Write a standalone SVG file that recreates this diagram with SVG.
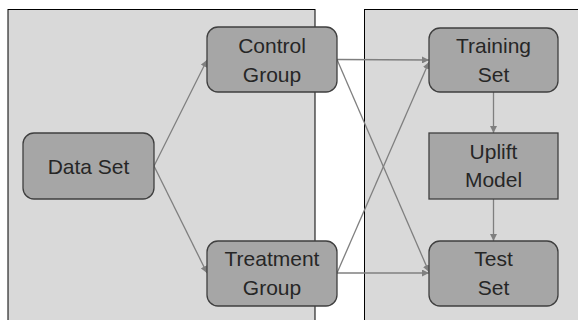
<svg xmlns="http://www.w3.org/2000/svg" width="578" height="320" viewBox="0 0 578 320">
<defs>
<style>
.panel{fill:#d9d9d9;stroke:#000;stroke-width:1}
.node{fill:#a6a6a6;stroke:#3f3f3f;stroke-width:1.3}
.lbl{font-family:"Liberation Sans",Arial,sans-serif;font-size:21px;fill:#262626;text-anchor:middle}
.conn{fill:none;stroke:#7f7f7f;stroke-width:1.3;marker-end:url(#arr)}
</style>
<marker id="arr" viewBox="0 0 10 10" refX="10" refY="5" markerWidth="7" markerHeight="7" markerUnits="userSpaceOnUse" orient="auto">
<path d="M0,0 L10,5 L0,10 z" fill="#7f7f7f"/>
</marker>
</defs>
<rect width="578" height="320" fill="#fff"/>
<g id="panels">
<rect class="panel" x="8" y="9.5" width="307" height="320"/>
<rect class="panel" x="364.5" y="9.5" width="230" height="320"/>
</g>
<g id="connectors">
<line class="conn" x1="154" y1="166" x2="207" y2="60"/>
<line class="conn" x1="154" y1="166" x2="207" y2="273"/>
<line class="conn" x1="337" y1="59.5" x2="429" y2="60"/>
<line class="conn" x1="337" y1="59.5" x2="429" y2="272"/>
<line class="conn" x1="337" y1="273" x2="429" y2="62"/>
<line class="conn" x1="337" y1="273" x2="429" y2="273"/>
<line class="conn" x1="493.5" y1="92" x2="493.5" y2="133"/>
<line class="conn" x1="493.5" y1="199" x2="493.5" y2="241"/>
</g>
<g id="data-set">
<rect class="node" x="23" y="133" width="131" height="66" rx="11"/>
<text class="lbl" x="88.5" y="173.5">Data Set</text>
</g>
<g id="control-group">
<rect class="node" x="207" y="27" width="130" height="65" rx="11"/>
<text class="lbl" x="272" y="53">Control</text>
<text class="lbl" x="272" y="81.5">Group</text>
</g>
<g id="treatment-group">
<rect class="node" x="207" y="241" width="130" height="65" rx="11"/>
<text class="lbl" x="272" y="266">Treatment</text>
<text class="lbl" x="272" y="294.5">Group</text>
</g>
<g id="training-set">
<rect class="node" x="429" y="28" width="129" height="64" rx="11"/>
<text class="lbl" x="493.5" y="53">Training</text>
<text class="lbl" x="493.5" y="81.5">Set</text>
</g>
<g id="uplift-model">
<rect class="node" x="429" y="133" width="129" height="66"/>
<text class="lbl" x="493.5" y="158.5">Uplift</text>
<text class="lbl" x="493.5" y="187">Model</text>
</g>
<g id="test-set">
<rect class="node" x="429" y="241" width="129" height="65" rx="11"/>
<text class="lbl" x="493.5" y="266">Test</text>
<text class="lbl" x="493.5" y="294.5">Set</text>
</g>
</svg>
